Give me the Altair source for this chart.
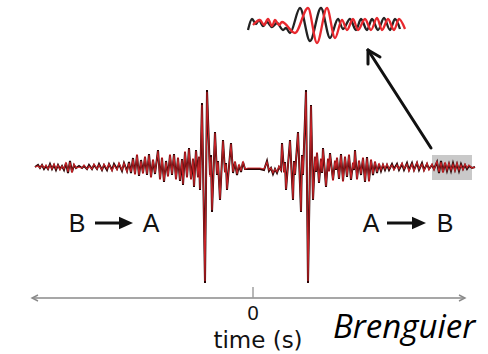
import altair as alt
import pandas as pd

# ---- main cross-correlation trace (time, amplitude) ----
TIME = [-218, -215, -213, -211, -209, -207, -205, -203, -201, -199, -197, -195, -193, -191, -189,
        -187, -185, -183, -181, -179, -177, -174, -171, -169, -166, -164, -161, -159, -156, -154,
        -151, -149, -146, -144, -141, -139, -136, -134, -131, -129, -126, -124, -122, -120, -118,
        -116, -114, -112, -110, -108, -106, -104, -102, -100, -98, -95, -93, -91, -89, -87,
        -85, -83, -81, -79, -77, -75, -73, -71, -70, -68, -66, -64, -62, -60, -59,
        -57, -55, -54, -53, -51, -48, -46, -43, -42, -41, -38, -36, -35, -33, -30,
        -28, -27, -26, -22, -20, -18, -16, -14, -12, -10, -8, -5, -1, 3, 7,
        11, 14, 16, 18, 20, 22, 24, 26, 28, 29, 31, 32, 33, 37, 40,
        41, 42, 45, 48, 49, 50, 53, 55, 58, 60, 62, 63, 64, 66, 68,
        69, 70, 73, 75, 76, 77, 80, 82, 83, 84, 86, 88, 90, 92, 94,
        96, 98, 100, 101, 102, 104, 106, 108, 110, 112, 114, 116, 118, 120, 122,
        124, 126, 128, 130, 132, 134, 136, 139, 141, 144, 146, 149, 151, 154, 156,
        159, 161, 164, 166, 169, 171, 174, 176, 179, 181, 184, 186, 188, 190, 192,
        194, 196, 198, 200, 202, 204, 206, 208, 210, 212, 214, 216, 219, 222]
BLACK = [0, 2, -1, 2, -2, 1, -2, 3, -2, 2, -3, 2, -2, 1, -3,
         4, -6, 6, -5, 2, -1, 1, -1, 1, -2, 2, -2, 2, -2, 3,
         -3, 2, -3, 3, -3, 3, -2, 3, -4, 4, -4, 5, -6, 9, -7,
         12, -9, 7, -6, 10, -8, 13, -10, 7, -7, 17, -12, 9, -15, 6,
         -9, 12, -8, 13, -12, 9, -14, 8, -18, 15, -10, 19, -12, 8, -20,
         17, -10, 10, -23, 64, -116, 77, -8, 12, -45, 35, -8, 6, -33, 27,
         -5, 4, -23, 24, -6, 5, -8, 2, -5, 5, -2, -2, -2, -2, -2,
         -3, 6, -4, -1, -7, -2, -6, 0, -3, 24, -5, 5, -23, 27, -33,
         6, -8, 35, -45, 12, -8, 77, -116, 62, -33, 10, -5, 14, -16, 8,
         -6, 19, -20, 8, -4, 14, -13, 6, -3, 9, -12, 13, -14, 10, -10,
         12, -13, 4, -3, 17, -12, 6, -8, 9, -15, 10, -14, 7, -8, 5,
         -6, 3, -4, 2, -3, 2, -3, 3, -2, 3, -3, 3, -3, 4, -3,
         4, -3, 4, -3, 4, -3, 3, -2, 2, -2, 5, -6, 6, -5, 4,
         -4, 3, -4, 4, -3, 3, -4, 3, -2, 2, -2, 1, -1, 0]
RED = [0, 1, -1, 2, -1, 2, -2, 2, -2, 3, -2, 2, -3, 1, -2,
       5, -5, 5, -6, 3, -1, 0, -1, 2, -2, 1, -2, 3, -2, 2,
       -3, 3, -2, 3, -4, 2, -3, 4, -3, 4, -5, 4, -5, 8, -8,
       13, -8, 6, -7, 11, -7, 12, -11, 8, -6, 16, -13, 10, -14, 5,
       -10, 13, -7, 12, -13, 10, -13, 7, -17, 16, -11, 18, -13, 9, -19,
       16, -11, 11, -22, 62, -114, 75, -10, 10, -43, 34, -7, 5, -32, 26,
       -6, 3, -22, 23, -5, 6, -7, 3, -4, 6, -2, -1, -1, -1, -1,
       -2, 5, -3, -1, -6, -2, -5, 1, -4, 23, -6, 4, -22, 26, -32,
       5, -7, 34, -44, 11, -7, 75, -114, 61, -32, 11, -4, 15, -15, 9,
       -5, 18, -19, 9, -5, 13, -14, 7, -2, 10, -11, 12, -15, 11, -9,
       13, -12, 5, -2, 16, -13, 7, -7, 10, -14, 9, -15, 8, -7, 6,
       -5, 4, -3, 3, -2, 3, -2, 2, -3, 2, -2, 4, -2, 3, -4,
       3, -4, 5, -2, 3, -4, 4, -3, 3, -3, 6, -5, 5, -6, 5,
       -3, 4, -3, 3, -4, 4, -3, 2, -3, 3, -1, 2, -1, 0]

# ---- inset: enlarged window of the late coda ----
INSET_T_BLACK = [0, 4, 8, 11, 15, 19, 24, 29, 35, 38, 42, 52, 62, 73, 82, 90,
                 95, 102, 108, 113, 119, 124, 130, 136, 142, 147, 152]
INSET_BLACK = [-5, 6, 1, 5, -1, 3, -2, 2, -5, -3, -8, 17, -16, 17, -13, 6,
               -4, 6, -5, 6, -5, 6, -5, 7, -5, 6, -4]
INSET_T_RED = [5, 12, 16, 20, 24, 27, 31, 34, 47, 60, 69, 79, 87, 94, 99, 105,
               110, 117, 123, 129, 134, 140, 146, 151, 157]
INSET_RED = [0, 5, 0, 6, -1, 5, 0, 3, -8, 17, -18, 17, -13, 5, -5, 6,
             -5, 6, -5, 7, -5, 6, -5, 6, -4]

W, H = 488, 354
XS = alt.Scale(domain=[-253, 235], range=[0, W], nice=False, zero=False)
YS = alt.Scale(domain=[-187, 167], range=[H, 0], nice=False, zero=False)
SANS = "Liberation Sans, Arial, Helvetica, sans-serif"


def xq(f):
    return alt.X(f, type="quantitative", scale=XS, axis=None)


def yq(f):
    return alt.Y(f, type="quantitative", scale=YS, axis=None)


trace = pd.DataFrame({"t": TIME, "black": BLACK, "red": RED})

black_line = alt.Chart(trace).mark_line(color="#2a0505", strokeWidth=2.0).encode(
    x=xq("t"), y=yq("black"))
red_line = alt.Chart(trace).mark_line(color="#d8262b", strokeWidth=1.1, opacity=0.9).encode(
    x=xq("t"), y=yq("red"))

# grey highlight box around the window shown in the inset
box = alt.Chart(pd.DataFrame({"t1": [179], "t2": [219], "a1": [12], "a2": [-13]})).mark_rect(
    color="#c9c9c9").encode(x=xq("t1"), x2="t2", y=yq("a1"), y2="a2")

# time axis
axis_df = pd.DataFrame({"t1": [-220], "t2": [211], "a": [-131]})
axis_line = alt.Chart(axis_df).mark_rule(color="#8a8a8a", strokeWidth=1.4).encode(
    x=xq("t1"), x2="t2", y=yq("a"))
tick = alt.Chart(pd.DataFrame({"t": [0], "a1": [-120], "a2": [-131]})).mark_rule(
    color="#9a9a9a", strokeWidth=1.4).encode(x=xq("t"), y=yq("a1"), y2="a2")
left_head = alt.Chart(pd.DataFrame({"t": [-218], "a": [-131]})).mark_point(
    shape="M1,-1L-1,0L1,1", size=36, filled=False, color="#8a8a8a", strokeWidth=1.4, opacity=1
).encode(x=xq("t"), y=yq("a"))
right_head = alt.Chart(pd.DataFrame({"t": [209], "a": [-131]})).mark_point(
    shape="M-1,-1L1,0L-1,1", size=36, filled=False, color="#8a8a8a", strokeWidth=1.4, opacity=1
).encode(x=xq("t"), y=yq("a"))

# big arrow from the grey box to the inset
arrow_df = pd.DataFrame({
    "t1": [178, 115, 115], "a1": [19, 117, 117],
    "t2": [115, 115, 127], "a2": [117, 103, 110],
})
big_arrow = alt.Chart(arrow_df).mark_rule(color="#111111", strokeWidth=3, strokeCap="round").encode(
    x=xq("t1"), y=yq("a1"), x2="t2", y2="a2")

# direction arrows
shaft_df = pd.DataFrame({"t1": [-158, 134], "t2": [-132, 160], "a": [-56, -56]})
shafts = alt.Chart(shaft_df).mark_rule(color="#111111", strokeWidth=3).encode(
    x=xq("t1"), x2="t2", y=yq("a"))
heads = alt.Chart(pd.DataFrame({"t": [-127, 166], "a": [-56, -56]})).mark_point(
    shape="M-1,-0.9L1,0L-1,0.9Z", size=196, filled=True, color="#111111", opacity=1
).encode(x=xq("t"), y=yq("a"))

labels_df = pd.DataFrame({"t": [-176, -102, 118, 192], "a": [-65, -65, -65, -65],
                          "txt": ["B", "A", "A", "B"]})
labels = alt.Chart(labels_df).mark_text(
    font=SANS, fontSize=25, color="#111111", align="center", baseline="alphabetic"
).encode(x=xq("t"), y=yq("a"), text="txt:N")

zero = alt.Chart(pd.DataFrame({"t": [0], "a": [-153], "txt": ["0"]})).mark_text(
    font=SANS, fontSize=20, color="#111111", align="center", baseline="alphabetic"
).encode(x=xq("t"), y=yq("a"), text="txt:N")
xlabel = alt.Chart(pd.DataFrame({"t": [5], "a": [-181], "txt": ["time (s)"]})).mark_text(
    font="DejaVu Sans, Verdana, sans-serif", fontSize=23, color="#111111", align="center",
    baseline="alphabetic"
).encode(x=xq("t"), y=yq("a"), text="txt:N")
credit = alt.Chart(pd.DataFrame({"t": [80], "a": [-171], "txt": ["Brenguier"]})).mark_text(
    font="Open Sans, Noto Sans, sans-serif", fontSize=33, fontStyle="italic", color="#000000",
    align="left", baseline="alphabetic"
).encode(x=xq("t"), y=yq("a"), text="txt:N")

main = alt.layer(box, black_line, red_line, axis_line, tick, left_head, right_head,
                 big_arrow, shafts, heads, labels, zero, xlabel, credit)

# inset with its own scales
IXS = alt.Scale(domain=[0, 157], range=[248, 405], nice=False, zero=False)
IYS = alt.Scale(domain=[-20, 20], range=[45, 5], nice=False, zero=False)
ib = pd.DataFrame({"t": INSET_T_BLACK, "a": INSET_BLACK})
ir = pd.DataFrame({"t": INSET_T_RED, "a": INSET_RED})
inset_black = alt.Chart(ib).mark_line(color="#222222", strokeWidth=2.3, interpolate="monotone").encode(
    x=alt.X("t:Q", scale=IXS, axis=None), y=alt.Y("a:Q", scale=IYS, axis=None))
inset_red = alt.Chart(ir).mark_line(color="#e8282e", strokeWidth=2.3, interpolate="monotone").encode(
    x=alt.X("t:Q", scale=IXS, axis=None), y=alt.Y("a:Q", scale=IYS, axis=None))
inset = alt.layer(inset_black, inset_red)

chart = alt.layer(main, inset).resolve_scale(x="independent", y="independent").properties(
    width=W, height=H, padding=0, autosize=alt.AutoSizeParams(type="none"),
    background="white"
).configure_view(stroke=None)

chart.save("out.html", embed_options={"renderer": "svg", "actions": False})
